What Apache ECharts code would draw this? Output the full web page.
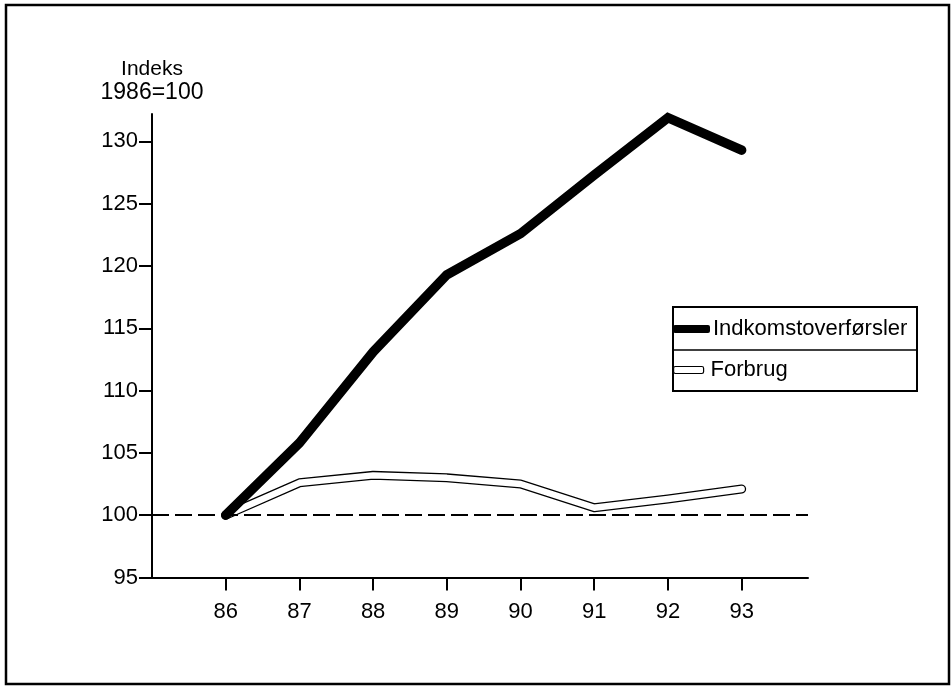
<!DOCTYPE html>
<html>
<head>
<meta charset="utf-8">
<script src="https://cdn.jsdelivr.net/npm/echarts@6/dist/echarts.min.js"></script>
<style>
html,body{margin:0;padding:0;background:#fff;}
#chart{width:952px;height:687px;}
</style>
</head>
<body>
<div id="chart"></div>
<script>
// ---- data ----
var years = [86, 87, 88, 89, 90, 91, 92, 93];
var indkomst = [100, 105.8, 113.1, 119.3, 122.6, 127.3, 131.9, 129.3];
var forbrug = [100, 102.6, 103.2, 103.0, 102.5, 100.6, 101.3, 102.1];
var yTicks = [95, 100, 105, 110, 115, 120, 125, 130];
var xTicks = [86, 87, 88, 89, 90, 91, 92, 93];
var seriesNames = ['Indkomstoverførsler', 'Forbrug'];
var yTitleLines = ['Indeks', '1986=100'];

function pairs(vals) { return years.map(function (y, i) { return [y, vals[i]]; }); }

var FONT = 'Liberation Sans';
var chart = echarts.init(document.getElementById('chart'));
chart.setOption({
  animation: false,
  backgroundColor: '#fff',
  textStyle: { fontFamily: FONT, color: '#000' },
  grid: { left: 152, right: 144, top: 114, bottom: 109.5, containLabel: false },
  xAxis: {
    type: 'value', min: 85, max: 93.9,
    splitLine: { show: false },
    axisLine: { lineStyle: { color: '#000', width: 2 } },
    axisTick: { customValues: xTicks, length: 13, lineStyle: { color: '#000', width: 2 } },
    axisLabel: { customValues: xTicks, margin: 23, fontSize: 22, color: '#000', fontFamily: FONT }
  },
  yAxis: {
    type: 'value', min: 95, max: 132.2,
    name: '{a|' + yTitleLines[0] + '}\n{b|' + yTitleLines[1] + '}',
    nameLocation: 'end', nameGap: 10,
    nameTextStyle: {
      align: 'center', color: '#000', fontFamily: FONT,
      rich: {
        a: { fontSize: 21, lineHeight: 23, fontFamily: FONT, color: '#000' },
        b: { fontSize: 23, lineHeight: 23, fontFamily: FONT, color: '#000' }
      }
    },
    splitLine: { show: false },
    axisLine: { lineStyle: { color: '#000', width: 2 } },
    axisTick: { customValues: yTicks, length: 13, lineStyle: { color: '#000', width: 2 } },
    axisLabel: { customValues: yTicks, margin: 14, fontSize: 22, color: '#000', fontFamily: FONT }
  },
  legend: [
    {
      data: [{ name: seriesNames[0], icon: 'roundRect', itemStyle: { color: '#000', borderWidth: 0 } }],
      left: 673, top: 318, padding: 0, itemWidth: 37, itemHeight: 8,
      selectedMode: false,
      textStyle: { fontSize: 22, color: '#000', fontFamily: FONT, padding: [0, 0, 0, -2] }
    },
    {
      data: [{ name: seriesNames[1], icon: 'roundRect', itemStyle: { color: '#fff', borderColor: '#000', borderWidth: 1.2 } }],
      left: 673, top: 359, padding: 0, itemWidth: 30, itemHeight: 7,
      selectedMode: false,
      textStyle: { fontSize: 22, color: '#000', fontFamily: FONT, padding: [0, 0, 0, 2] }
    }
  ],
  series: [
    {
      name: seriesNames[1], type: 'line', data: pairs(forbrug),
      symbol: 'none', silent: true,
      lineStyle: { color: '#000', width: 9, cap: 'round', join: 'round' },
      markLine: {
        silent: true, symbol: 'none', label: { show: false },
        lineStyle: { color: '#000', width: 2.2, type: [17, 6] },
        data: [{ yAxis: 100 }]
      },
      z: 2
    },
    {
      name: '_forbrugInner', type: 'line', data: pairs(forbrug),
      symbol: 'none', silent: true,
      lineStyle: { color: '#fff', width: 6.4, cap: 'round', join: 'round' },
      z: 3
    },
    {
      name: seriesNames[0], type: 'line', data: pairs(indkomst),
      symbol: 'none', silent: true,
      lineStyle: { color: '#000', width: 9.5, cap: 'round', join: 'miter' },
      z: 4
    }
  ],
  graphic: [
    { type: 'rect', shape: { x: 6, y: 5, width: 943, height: 679 }, style: { fill: 'none', stroke: '#000', lineWidth: 2.5 }, silent: true },
    { type: 'rect', shape: { x: 673, y: 307, width: 244, height: 84 }, style: { fill: 'none', stroke: '#000', lineWidth: 2 }, silent: true },
    { type: 'line', shape: { x1: 673, y1: 350, x2: 917, y2: 350 }, style: { stroke: '#000', lineWidth: 1.5 }, silent: true }
  ]
});
</script>
</body>
</html>
